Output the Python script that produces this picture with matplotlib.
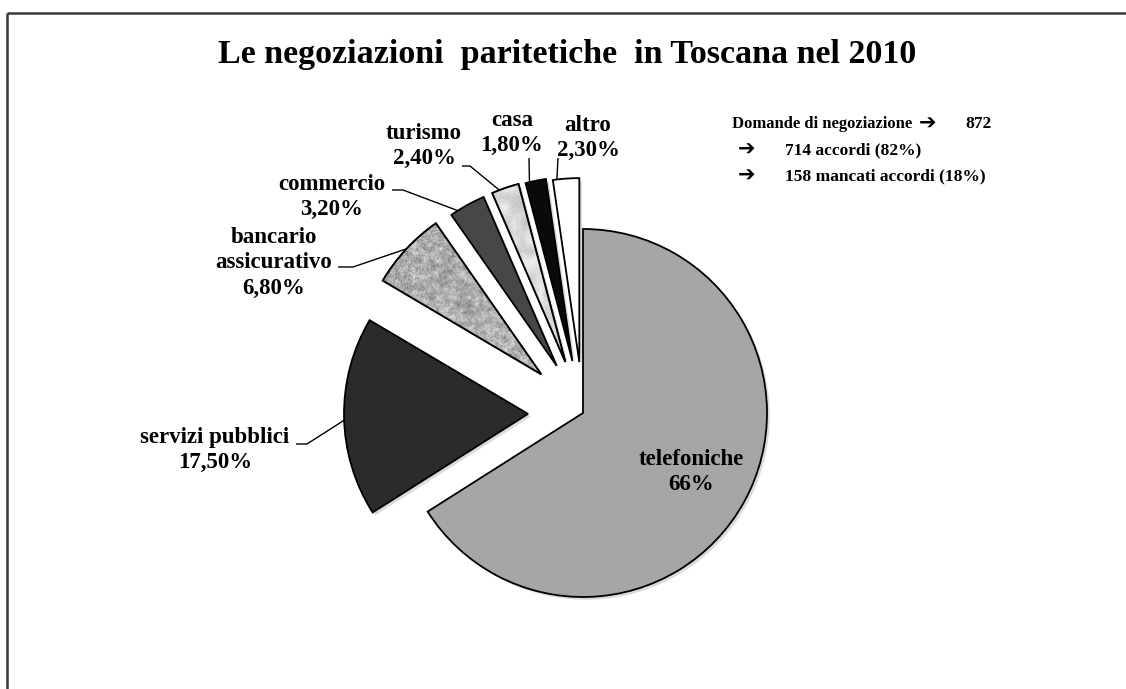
import numpy as np
import matplotlib.pyplot as plt
import matplotlib.patches as mpatches
from matplotlib import patheffects

W, H = 1126, 689

categories = ['telefoniche', 'servizi pubblici', 'bancario\nassicurativo',
              'commercio', 'turismo', 'casa', 'altro']
shares = [66.0, 17.5, 6.8, 3.2, 2.4, 1.8, 2.3]
share_labels = ['66%', '17,50%', '6,80%', '3,20%', '2,40%', '1,80%', '2,30%']

requests_total = 872
agreements = 714
agreements_pct = 82
no_agreements = 158
no_agreements_pct = 18

title = 'Le negoziazioni  paritetiche  in Toscana nel 2010'

# layout in pixel units (y measured from the top)
pie_center = (583, 413)
pie_radius = 184
explode = [0, 55, 57, 54, 54, 53, 51]
colors = ['#a6a6a6', '#2b2b2b', '#b5b5b5', '#474747', '#dcdcdc', '#0a0a0a', '#ffffff']
label_pos = [(691, 472), (215, 450), (274, 263), (332, 197),
             (424, 146), (512, 133), (588, 138)]
# (start x, start y, horizontal stub, angle on the wedge arc)
leaders = [None,
           (296, 444, 11, 182),
           (338, 267, 15, 137),
           (392, 190, 11, 122.5),
           (462, 166, 8, 111),
           (529, 158, 0, 103.5),
           (558, 158, 0, 97)]

SERIF = ['Liberation Serif', 'DejaVu Serif']
ARROW = ['DejaVu Sans']


def fy(y):
    return H - y


def texture(shape, scale, lo, hi, seed, fine=0.5):
    rng = np.random.default_rng(seed)
    coarse = rng.random((shape[0] // scale + 1, shape[1] // scale + 1))
    coarse = np.kron(coarse, np.ones((scale, scale)))[:shape[0], :shape[1]]
    k = np.ones(scale) / scale
    coarse = np.apply_along_axis(lambda r: np.convolve(r, k, mode='same'), 1, coarse)
    coarse = np.apply_along_axis(lambda c: np.convolve(c, k, mode='same'), 0, coarse)
    noise = (1 - fine) * coarse + fine * rng.random(shape)
    noise = (noise - noise.min()) / (noise.max() - noise.min())
    return lo + (hi - lo) * noise


fig = plt.figure(figsize=(W / 100, H / 100), dpi=100)
ax = fig.add_axes([0, 0, 1, 1])
ax.set_xlim(0, W)
ax.set_ylim(0, H)
ax.axis('off')

wedges, _ = ax.pie(shares, colors=colors, explode=explode, startangle=90,
                   counterclock=False, center=(pie_center[0], fy(pie_center[1])),
                   radius=pie_radius, frame=True,
                   wedgeprops=dict(edgecolor='black', linewidth=1.3))
for w in wedges:
    w.set_path_effects([patheffects.SimplePatchShadow(offset=(2, -2), shadow_rgbFace='#999999', alpha=0.35),
                        patheffects.Normal()])

# speckled fills for bancario and turismo
for idx, (scale, lo, hi, seed, fine) in {2: (4, 0.45, 0.92, 3, 0.55),
                                         4: (9, 0.72, 0.97, 7, 0.25)}.items():
    w = wedges[idx]
    bb = w.get_path().get_extents()
    img = texture((int(bb.height) + 2, int(bb.width) + 2), scale, lo, hi, seed, fine)
    im = ax.imshow(img, cmap='gray', vmin=0, vmax=1, interpolation='bilinear',
                   extent=(bb.x0, bb.x1, bb.y0, bb.y1), zorder=w.get_zorder() + 0.1)
    im.set_clip_path(w)
    ax.add_patch(mpatches.Wedge(w.center, w.r, w.theta1, w.theta2, fill=False,
                                edgecolor='black', linewidth=1.3,
                                zorder=w.get_zorder() + 0.2))

ax.set_xlim(0, W)
ax.set_ylim(0, H)
ax.set_aspect('auto')
ax.axis('off')

for i, (name, pct) in enumerate(zip(categories, share_labels)):
    x, y = label_pos[i]
    ax.text(x, fy(y), f'{name}\n{pct}', ha='center', va='center', family=SERIF,
            fontsize=16.5, fontweight='bold', linespacing=1.3, zorder=5)
    if leaders[i] is None:
        continue
    sx, sy, stub, ang = leaders[i]
    w = wedges[i]
    ex = w.center[0] + w.r * np.cos(np.radians(ang))
    ey = w.center[1] + w.r * np.sin(np.radians(ang))
    ax.plot([sx, sx + stub, ex], [fy(sy), fy(sy), ey], color='black', lw=1.0,
            solid_capstyle='butt', zorder=4)

ax.text(567, fy(55), title, ha='center', va='center', family=SERIF,
        fontsize=24.5, fontweight='bold')

# summary of the requests
ax.text(732, fy(124), 'Domande di negoziazione', ha='left', va='center',
        family=SERIF, fontsize=12, fontweight='bold')
ax.text(919, fy(124), '\u2794', ha='left', va='center', family=ARROW,
        fontsize=15, fontweight='bold')
ax.text(965, fy(124), f'{requests_total}', ha='left', va='center',
        family=SERIF, fontsize=12.5, fontweight='bold')
for yy, txt in [(150, f'{agreements} accordi ({agreements_pct}%)'),
                (176, f'{no_agreements} mancati accordi ({no_agreements_pct}%)')]:
    ax.text(738, fy(yy), '\u2794', ha='left', va='center', family=ARROW,
            fontsize=15, fontweight='bold')
    ax.text(785, fy(yy), txt, ha='left', va='center', family=SERIF,
            fontsize=12.5, fontweight='bold')

# slide frame
ax.plot([7, W], [fy(13), fy(13)], color='#3a3a3a', lw=1.8, solid_capstyle='butt')
ax.plot([7, 7], [fy(13), 0], color='#3a3a3a', lw=1.8, solid_capstyle='butt')

fig.savefig('out.png', dpi=100, facecolor='white')
